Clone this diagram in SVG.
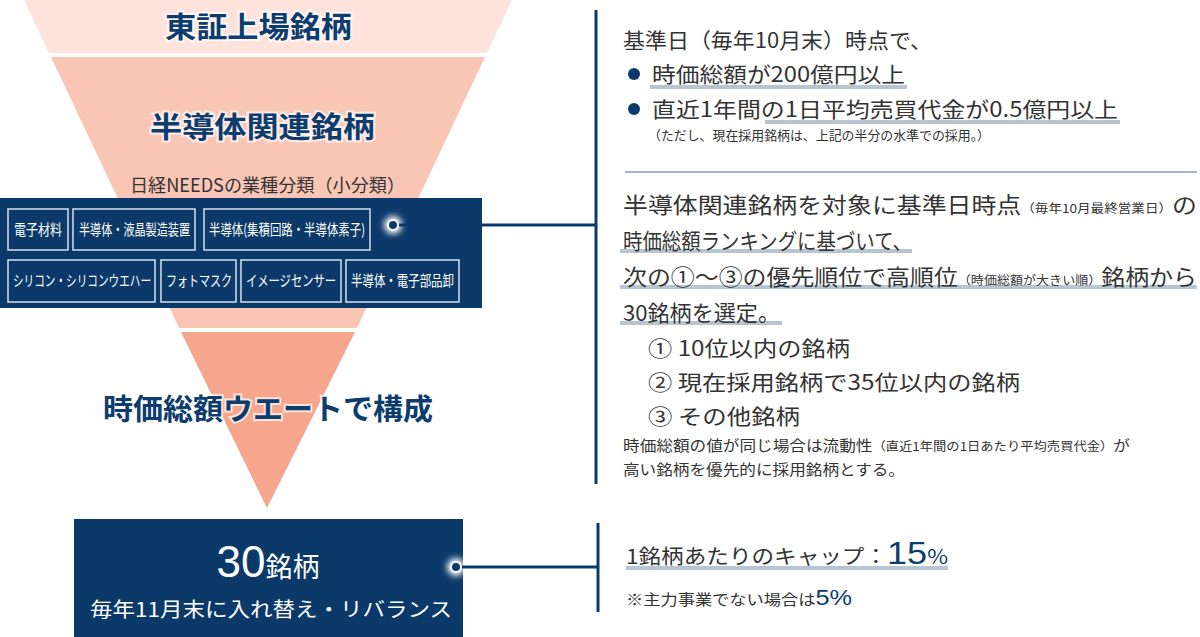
<svg xmlns="http://www.w3.org/2000/svg" width="1200" height="637" viewBox="0 0 1200 637">
<defs>
<style>
.f{font-family:"Noto Sans CJK JP","Liberation Sans",sans-serif}
.h{font-weight:bold;fill:#0d3c6e;stroke:#fff;stroke-width:4;stroke-opacity:.7;paint-order:stroke}
.t{fill:#333}
.w{fill:#fff}
.ib{fill:none;stroke:#d8e0ea;stroke-width:1.5}
.ul{stroke:#b7c4d3;stroke-width:4}
</style>
<filter id="gl" x="-100%" y="-100%" width="300%" height="300%"><feGaussianBlur stdDeviation="3"/></filter>
</defs>
<g id="funnel">
<polygon points="24,0 512,0 487,53 49,53" fill="#fde3dc"/>
<polygon points="51,57 485,57 357,328 179,328" fill="#f9c5b4"/>
<polygon points="181,332 355,332 267,508" fill="#f7a68e"/>
</g>
<g id="n1"><text class="f h" x="165" y="38" font-size="29" textLength="187" lengthAdjust="spacingAndGlyphs">東証上場銘柄</text></g>
<g id="n2"><text class="f h" x="150" y="138" font-size="29" textLength="225" lengthAdjust="spacingAndGlyphs">半導体関連銘柄</text>
<text class="f" x="130" y="192" font-size="18" fill="#333" textLength="275" lengthAdjust="spacingAndGlyphs">日経NEEDSの業種分類（小分類）</text></g>
<g id="n3">
<rect x="0" y="198" width="482" height="110" fill="#0b3a6a"/>
<rect class="ib" x="8" y="209" width="60" height="41"/>
<rect class="ib" x="73" y="209" width="122" height="41"/>
<rect class="ib" x="204" y="209" width="166" height="41"/>
<rect class="ib" x="8" y="260" width="147" height="42"/>
<rect class="ib" x="161" y="260" width="75" height="42"/>
<rect class="ib" x="241" y="260" width="100" height="42"/>
<rect class="ib" x="346" y="260" width="113" height="42"/>
<g class="f w" font-size="15">
<text x="14" y="235" textLength="48" lengthAdjust="spacingAndGlyphs">電子材料</text>
<text x="79" y="235" textLength="111" lengthAdjust="spacingAndGlyphs">半導体・液晶製造装置</text>
<text x="209" y="235" textLength="156" lengthAdjust="spacingAndGlyphs">半導体(集積回路・半導体素子)</text>
<text x="13" y="286" textLength="138" lengthAdjust="spacingAndGlyphs">シリコン・シリコンウエハー</text>
<text x="166" y="286" textLength="66" lengthAdjust="spacingAndGlyphs">フォトマスク</text>
<text x="246" y="286" textLength="90" lengthAdjust="spacingAndGlyphs">イメージセンサー</text>
<text x="351" y="286" textLength="103" lengthAdjust="spacingAndGlyphs">半導体・電子部品卸</text>
</g></g>
<g id="n4"><text class="f h" x="103" y="420" font-size="29" textLength="330" lengthAdjust="spacingAndGlyphs">時価総額ウエートで構成</text></g>
<g id="n5">
<rect x="74" y="519" width="389" height="118" fill="#0b3a6a"/>
<text class="f w" x="268" y="577" text-anchor="middle"><tspan font-size="44" font-family="Liberation Sans,sans-serif">30</tspan><tspan font-size="27">銘柄</tspan></text>
<text class="f w" x="90" y="617" font-size="20" textLength="362" lengthAdjust="spacingAndGlyphs">毎年11月末に入れ替え・リバランス</text>
</g>
<g id="connectors">
<line x1="596" y1="10" x2="596" y2="484" stroke="#0b3a6a" stroke-width="3"/>
<line x1="625" y1="172" x2="1197" y2="172" stroke="#4a6c96" stroke-width="1.2"/>
<circle cx="393" cy="225" r="9" fill="#fff" filter="url(#gl)"/>
<line x1="393" y1="225" x2="596" y2="225" stroke="#0b3a6a" stroke-width="3"/>
<circle cx="393" cy="225" r="5" fill="#0b3a6a" stroke="#fff" stroke-width="2"/>
<line x1="598" y1="523" x2="598" y2="612" stroke="#0b3a6a" stroke-width="3"/>
<circle cx="456" cy="567" r="9" fill="#fff" filter="url(#gl)"/>
<line x1="456" y1="567" x2="598" y2="567" stroke="#0b3a6a" stroke-width="3"/>
<circle cx="456" cy="567" r="5" fill="#0b3a6a" stroke="#fff" stroke-width="2"/>
</g>
<g id="info1" class="f t">
<line class="ul" x1="650" y1="87" x2="907" y2="87"/>
<line class="ul" x1="765" y1="122" x2="1120" y2="122"/>
<text x="623" y="48" font-size="21" textLength="309" lengthAdjust="spacingAndGlyphs">基準日（毎年10月末）時点で、</text>
<circle cx="634" cy="74" r="6" fill="#0b3a6a"/>
<text x="652" y="82" font-size="21" textLength="253" lengthAdjust="spacingAndGlyphs">時価総額が200億円以上</text>
<circle cx="634" cy="109" r="6" fill="#0b3a6a"/>
<text x="652" y="117" font-size="21" textLength="466" lengthAdjust="spacingAndGlyphs">直近1年間の1日平均売買代金が0.5億円以上</text>
<text x="648" y="140" font-size="13" textLength="342" lengthAdjust="spacingAndGlyphs">（ただし、現在採用銘柄は、上記の半分の水準での採用。）</text>
</g>
<g id="info2" class="f t">
<line class="ul" x1="620" y1="251" x2="912" y2="251"/>
<line class="ul" x1="620" y1="287" x2="1197" y2="287"/>
<line class="ul" x1="620" y1="323" x2="782" y2="323"/>
<g font-size="22">
<text x="623" y="213" textLength="574" lengthAdjust="spacingAndGlyphs">半導体関連銘柄を対象に基準日時点<tspan font-size="12">（毎年10月最終営業日）</tspan>の</text>
<text x="623" y="249" textLength="289" lengthAdjust="spacingAndGlyphs">時価総額ランキングに基づいて、</text>
<text x="623" y="285" textLength="574" lengthAdjust="spacingAndGlyphs">次の①～③の優先順位で高順位<tspan font-size="12">（時価総額が大きい順）</tspan>銘柄から</text>
<text x="623" y="321" textLength="157" lengthAdjust="spacingAndGlyphs">30銘柄を選定。</text>
</g>
<g font-size="21">
<text x="648" y="356" textLength="202" lengthAdjust="spacingAndGlyphs">① 10位以内の銘柄</text>
<text x="648" y="390" textLength="372" lengthAdjust="spacingAndGlyphs">② 現在採用銘柄で35位以内の銘柄</text>
<text x="648" y="424" textLength="152" lengthAdjust="spacingAndGlyphs">③ その他銘柄</text>
</g>
<text x="623" y="451" font-size="15" textLength="507" lengthAdjust="spacingAndGlyphs">時価総額の値が同じ場合は流動性<tspan font-size="12">（直近1年間の1日あたり平均売買代金）</tspan>が</text>
<text x="623" y="475" font-size="15" textLength="282" lengthAdjust="spacingAndGlyphs">高い銘柄を優先的に採用銘柄とする。</text>
</g>
<g id="info3" class="f t">
<line class="ul" x1="626" y1="568" x2="948" y2="568"/>
<text x="626" y="564" font-size="20" textLength="322" lengthAdjust="spacingAndGlyphs">1銘柄あたりのキャップ：<tspan font-size="32" fill="#0d3c6e" font-family="Liberation Sans,sans-serif">15</tspan><tspan font-size="20" fill="#0d3c6e">%</tspan></text>
<text x="626" y="605" font-size="15" textLength="226" lengthAdjust="spacingAndGlyphs">※主力事業でない場合は<tspan font-size="22" fill="#0d3c6e" font-family="Liberation Sans,sans-serif">5%</tspan></text>
</g>
</svg>
